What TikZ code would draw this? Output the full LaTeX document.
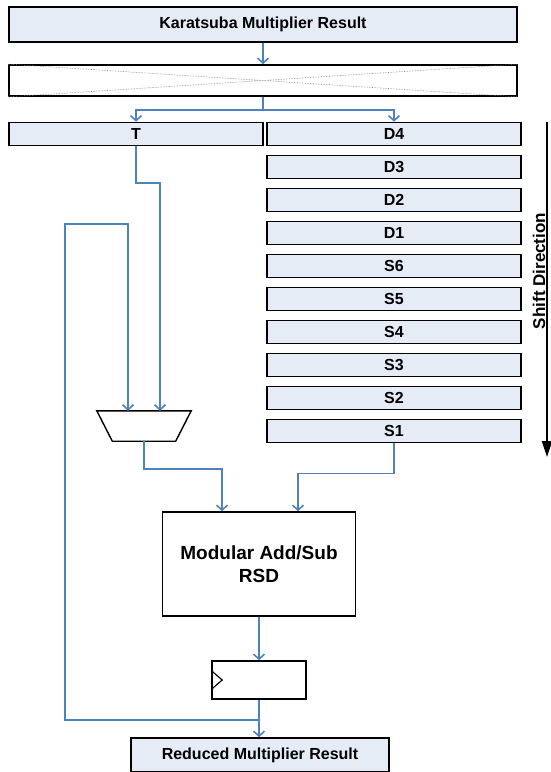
\documentclass[tikz,border=0pt]{standalone}
\usepackage{fontspec}
\setmainfont{Liberation Sans}
\usetikzlibrary{arrows.meta}
\definecolor{wireblue}{RGB}{79,129,189}
\definecolor{regfill}{RGB}{230,236,246}

\begin{document}
\begin{tikzpicture}[x=1pt,y=-1pt,
  box/.style={draw,line width=1.6pt,fill=regfill,inner sep=0pt,
              font=\fontsize{16}{19}\selectfont\bfseries},
  word/.style={box,minimum width=254pt,minimum height=23pt},
  wire/.style={wireblue,line width=1.6pt},
  arr/.style={wire,-{Straight Barb[length=5pt,width=11pt]}}]
  \useasboundingbox (0,0) rectangle (550,772);

  \node[box,minimum width=508pt,minimum height=35pt] (kmr) at (263,24.5) {Karatsuba Multiplier Result};
  \node[box,fill=white,minimum width=508pt,minimum height=31pt] (mix) at (263,80.5) {};
  \draw[gray,densely dotted,line width=0.6pt] (mix.north west) -- (mix.south east)
                                              (mix.south west) -- (mix.north east);

  \node[word] (T) at (136,134) {T};
  \foreach \lab [count=\i from 0] in {D4,D3,D2,D1,S6,S5,S4,S3,S2,S1}
    \node[word] (\lab) at (394,{134+33*\i}) {\lab};

  % mux
  \node[inner sep=0pt,minimum width=94pt,minimum height=30pt] (mux) at (144,426) {};
  \draw[line width=1.4pt] (mux.north west) -- (mux.north east) -- ([xshift=-15.5pt]mux.south east)
                          -- ([xshift=15.5pt]mux.south west) -- cycle;
  \node[draw,line width=1.6pt,minimum width=193pt,minimum height=104pt,align=center,
        font=\fontsize{19}{23}\selectfont\bfseries] (add) at (259,564) {Modular Add/Sub\\RSD};
  \node[draw,line width=1.6pt,minimum width=94pt,minimum height=38pt,inner sep=0pt] (reg) at (259,680) {};
  \draw[line width=1.2pt] ([yshift=9.5pt]reg.west) -- ([xshift=11pt]reg.west) -- ([yshift=-9.5pt]reg.west);
  \node[box,minimum width=258pt,minimum height=34pt] (res) at (260,755) {Reduced Multiplier Result};

  % data path
  \draw[arr] (kmr.south) -- (mix.north);
  \draw[wire] (mix.south) -- ++(0,13) coordinate (split);
  \draw[arr] (split) -| (T.north);
  \draw[arr] (split) -| (D4.north);
  \draw[arr] (T.south) -- ++(0,36.5) -| ([xshift=16pt]mux.north);
  \draw[arr] (mux.south) -- ++(0,28) -| ([xshift=-37pt]add.north);
  \draw[arr] (S1.south) -- ++(0,30) -| ([xshift=39pt]add.north);
  \draw[arr] (add.south) -- (reg.north);
  \draw[wire] (reg.south) -- ++(0,20) coordinate (fb);
  \draw[arr] (fb) -- (fb |- res.north);
  \draw[arr] (fb) -- ++(-194,0) -- ++(0,-496) -| ([xshift=-16pt]mux.north);

  % shift direction
  \coordinate (sdtop) at (547,122);
  \coordinate (sdbot) at (547,457);
  \draw[line width=2.2pt,-{Triangle[length=16pt,width=10pt]}] (sdtop) -- (sdbot);
  \node[rotate=90,inner sep=0pt,font=\fontsize{17}{20}\selectfont\bfseries] (sdlab) at (539,271) {Shift Direction};
\end{tikzpicture}
\end{document}
